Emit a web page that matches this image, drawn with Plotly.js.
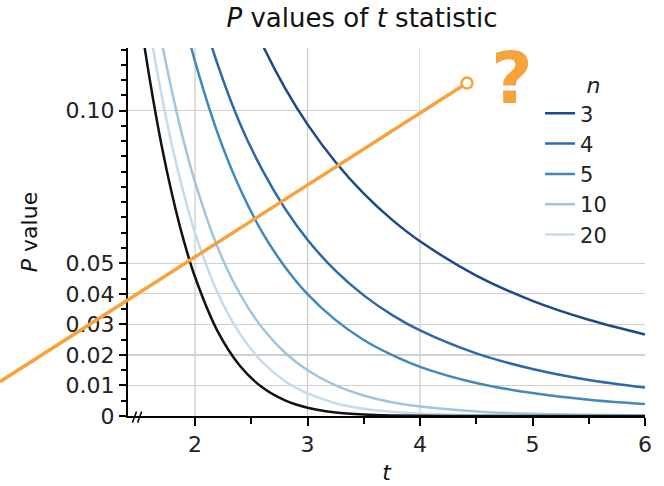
<!DOCTYPE html>
<html><head><meta charset="utf-8">
<script src="https://cdn.plot.ly/plotly-3.0.1.min.js"></script>
<style>html,body{margin:0;padding:0;background:#fff}</style>
</head><body>
<div id="chart" style="width:664px;height:486px"></div>
<script>
// t statistic values (x)
const tValues = [1.4, 1.5, 1.6, 1.7, 1.8, 1.9, 2.0, 2.2, 2.4, 2.6, 2.8, 3.0, 3.25, 3.5, 3.75, 4.0, 4.5, 5.0, 5.5, 6.0];
// P values per sample size n
const pN3  = [null, null, null, null, null, null, 0.1835, 0.1588, 0.1385, 0.1215, 0.1074, 0.0955, 0.0831, 0.0728, 0.0643, 0.0572, 0.0460, 0.0377, 0.0315, 0.0267];
const pN4  = [null, null, null, null, 0.1697, 0.1536, 0.1393, 0.1152, 0.0957, 0.0804, 0.0679, 0.0577, 0.0475, 0.0395, 0.0331, 0.0280, 0.0205, 0.0154, 0.0118, 0.0093];
const pN5  = [null, null, 0.1848, 0.1644, 0.1462, 0.1302, 0.1161, 0.0927, 0.0744, 0.0600, 0.0488, 0.0399, 0.0314, 0.0249, 0.0200, 0.0161, 0.0108, 0.0075, 0.0053, 0.0039];
const pN10 = [0.1950, 0.1678, 0.1441, 0.1233, 0.1054, 0.0899, 0.0766, 0.0553, 0.0399, 0.0287, 0.0207, 0.0150, 0.0100, 0.0067, 0.0045, 0.0031, 0.0015, 0.0007, 0.0004, 0.0002];
const pN20 = [0.1770, 0.1500, 0.1260, 0.1056, 0.0878, 0.0728, 0.0600, 0.0404, 0.0269, 0.0176, 0.0114, 0.0074, 0.0042, 0.0024, 0.0014, 0.0008, 0.00024, 0.00008, 0.00003, 0.00001];
const pNormal = [0.1615, 0.1336, 0.1096, 0.0891, 0.0719, 0.0574, 0.0455, 0.0278, 0.0164, 0.0093, 0.0051, 0.0027, 0.00115, 0.00047, 0.00018, 0.00006, 0.000007, 0.0000006, 0, 0];

const seriesLabels = ['3', '4', '5', '10', '20'];
const seriesValues = [pN3, pN4, pN5, pN10, pN20];

const xTickVals = [2, 3, 4, 5, 6];
const xTickText = ['2', '3', '4', '5', '6'];
const xMinorTicks = [2.5, 3.5, 4.5, 5.5];
const xGridVals = [2, 3, 4];
const yTickVals = [0, 0.01, 0.02, 0.03, 0.04, 0.05, 0.10];
const yTickText = ['0', '0.01', '0.02', '0.03', '0.04', '0.05', '0.10'];

// styles
const seriesColors = ['#1c4a88', '#2a6aa8', '#4189bd', '#9fc6df', '#c6dcea'];
const orange = '#f6a33c';
const FONT = 'DejaVu Sans, Liberation Sans, Arial, sans-serif';

const traces = seriesValues.map((vals, i) => ({
  x: tValues, y: vals, type: 'scatter', mode: 'lines',
  name: seriesLabels[i],
  line: {color: seriesColors[i], width: 2.5, shape: 'spline', smoothing: 0.9}
}));
traces.push({
  x: tValues, y: pNormal, type: 'scatter', mode: 'lines', name: 'normal', showlegend: false,
  line: {color: '#111111', width: 2.5, shape: 'spline', smoothing: 0.9}
});

const shapes = [];
// white panel behind the legend (hides grid there)
shapes.push({type: 'rect', xref: 'x', yref: 'y', x0: 4, x1: 6.1, y0: 0.06, y1: 0.13,
  fillcolor: '#ffffff', line: {width: 0}, layer: 'between'});
xGridVals.forEach(v => shapes.push({type: 'line', xref: 'x', yref: 'paper', x0: v, x1: v, y0: 0, y1: 1,
  line: {color: '#cccccc', width: 1.3}, layer: 'between'}));
// axis break marks
shapes.push({type: 'line', xref: 'paper', yref: 'paper', x0: 0.0085, x1: 0.0165, y0: -0.018, y1: 0.012, line: {color: '#000', width: 1.5}});
shapes.push({type: 'line', xref: 'paper', yref: 'paper', x0: 0.0185, x1: 0.0265, y0: -0.018, y1: 0.012, line: {color: '#000', width: 1.5}});
// orange pointer
shapes.push({type: 'line', xref: 'paper', yref: 'paper', x0: -0.2476, y0: 0.0932, x1: 0.6557, y1: 0.9049,
  line: {color: orange, width: 3.5}});
shapes.push({type: 'circle', xref: 'paper', yref: 'paper', xsizemode: 'pixel', ysizemode: 'pixel',
  xanchor: 0.6557, yanchor: 0.9049, x0: -5.5, x1: 5.5, y0: -5.5, y1: 5.5,
  fillcolor: '#ffffff', line: {color: orange, width: 2.5}});

const layout = {
  width: 664, height: 486,
  margin: {l: 128, r: 19, t: 48, b: 70},
  paper_bgcolor: '#ffffff', plot_bgcolor: '#ffffff',
  font: {family: FONT, size: 21, color: '#222222'},
  title: {text: '<i>P</i> values of <i>t</i> statistic', font: {family: FONT, size: 26, color: '#111'},
    xref: 'paper', x: 0.4526, xanchor: 'center', yref: 'container', y: 0.963, yanchor: 'middle'},
  xaxis: {
    range: [1.404, 6], tickmode: 'array', tickvals: xTickVals, ticktext: xTickText,
    showgrid: false, zeroline: false, showline: true, linecolor: '#000', linewidth: 2,
    ticks: 'outside', ticklen: 8, tickwidth: 2, tickcolor: '#000',
    tickfont: {size: 22, color: '#222'},
    minor: {tickmode: 'array', tickvals: xMinorTicks, ticks: 'outside', ticklen: 6, tickwidth: 2, tickcolor: '#000', showgrid: false},
    title: {text: '<i>t</i>', font: {size: 22, color: '#111'}, standoff: 8}
  },
  yaxis: {
    range: [0, 0.1205], tickmode: 'array', tickvals: yTickVals, ticktext: yTickText,
    showgrid: true, gridcolor: '#d0d0d0', gridwidth: 1.3, zeroline: false,
    showline: true, linecolor: '#000', linewidth: 2,
    ticks: 'outside', ticklen: 7, tickwidth: 2, tickcolor: '#000',
    tickfont: {size: 22, color: '#222'},
    minor: {tickmode: 'linear', tick0: 0, dtick: 0.005, ticks: 'outside', ticklen: 5, tickwidth: 2, tickcolor: '#000', showgrid: false},
    title: {text: '<i>P</i> value', font: {size: 22, color: '#111'}, standoff: 22}
  },
  legend: {
    x: 0.797, xanchor: 'left', y: 0.955, yanchor: 'top',
    bgcolor: 'rgba(255,255,255,0)', borderwidth: 0,
    font: {size: 21, color: '#222'},
    title: {text: '&nbsp;&nbsp;&nbsp;&nbsp;&nbsp;<i>n</i>', side: 'top center', font: {size: 22, color: '#222'}},
    tracegroupgap: 0
  },
  annotations: [{
    text: '<b>?</b>', xref: 'paper', yref: 'paper', x: 0.7427, y: 0.9185,
    xanchor: 'center', yanchor: 'middle', showarrow: false,
    font: {family: FONT, size: 72, color: orange}
  }],
  shapes: shapes
};

Plotly.newPlot('chart', traces, layout, {displayModeBar: false, staticPlot: true});
</script>
</body></html>
